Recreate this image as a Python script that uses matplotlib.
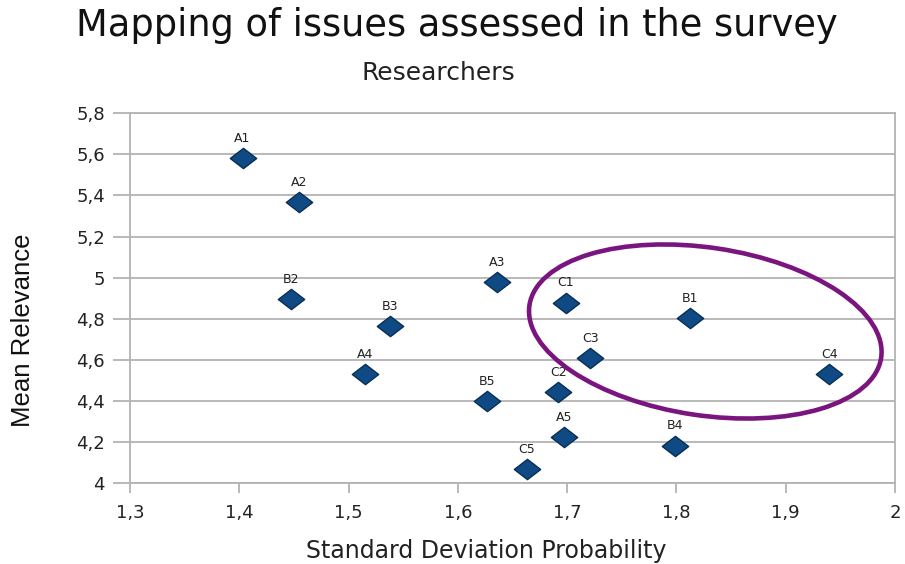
import matplotlib
matplotlib.use("Agg")
import matplotlib.pyplot as plt
from matplotlib.patches import Ellipse
from matplotlib.path import Path

# ---- data ----
labels = ["A1", "A2", "B2", "B3", "A4", "A3", "B5", "C1", "C3", "C2", "A5", "C5", "B1", "B4", "C4"]
std_dev = [1.403, 1.455, 1.447, 1.538, 1.515, 1.636, 1.627, 1.699, 1.721, 1.692, 1.697, 1.663, 1.812, 1.799, 1.940]
mean_rel = [5.582, 5.368, 4.895, 4.764, 4.530, 4.978, 4.398, 4.878, 4.607, 4.442, 4.222, 4.066, 4.802, 4.182, 4.530]

x_ticks = [1.3, 1.4, 1.5, 1.6, 1.7, 1.8, 1.9, 2.0]
x_tick_labels = ["1,3", "1,4", "1,5", "1,6", "1,7", "1,8", "1,9", "2"]
y_ticks = [4.0, 4.2, 4.4, 4.6, 4.8, 5.0, 5.2, 5.4, 5.6, 5.8]
y_tick_labels = ["4", "4,2", "4,4", "4,6", "4,8", "5", "5,2", "5,4", "5,6", "5,8"]

title = "Mapping of issues assessed in the survey"
subtitle = "Researchers"
x_label = "Standard Deviation Probability"
y_label = "Mean Relevance"

# ---- figure ----
W, H = 905, 564
fig = plt.figure(figsize=(W / 100, H / 100), dpi=100)
fig.patch.set_facecolor("white")
ax = fig.add_axes([130 / W, (H - 483) / H, (895 - 130) / W, (483 - 113.3) / H])

grid_c = "#b3b3b3"
ax.set_xlim(1.3, 2.0)
ax.set_ylim(4.0, 5.8)
ax.set_yticks(y_ticks)
ax.set_yticklabels(y_tick_labels)
ax.set_xticks(x_ticks)
ax.set_xticklabels(x_tick_labels)
ax.yaxis.grid(True, color=grid_c, linewidth=1.3)
ax.xaxis.grid(False)
ax.set_axisbelow(True)
for s in ax.spines.values():
    s.set_color(grid_c)
    s.set_linewidth(1.3)
ax.tick_params(axis="y", length=12, width=1.3, color=grid_c, pad=6,
               labelsize=13, labelcolor="#222222")
ax.tick_params(axis="x", length=7, width=1.3, color=grid_c, pad=8,
               labelsize=13, labelcolor="#222222")

diamond = Path([(0, 1), (1.3, 0), (0, -1), (-1.3, 0), (0, 1)],
               [Path.MOVETO, Path.LINETO, Path.LINETO, Path.LINETO, Path.CLOSEPOLY])
ax.plot(std_dev, mean_rel, linestyle="none", marker=diamond, markersize=19,
        markerfacecolor="#0f4a85", markeredgecolor="#0a2f55", markeredgewidth=1.0,
        zorder=3)

for lab, xv, yv in zip(labels, std_dev, mean_rel):
    ax.annotate(lab, (xv, yv), xytext=(0, 9.5), textcoords="offset points",
                ha="center", va="bottom", fontsize=9, color="#222222", zorder=4)

# highlight ellipse (drawn in figure inch space, origin bottom-left)
ell = Ellipse((705.3 / 100, (H - 331.5) / 100), 3.556, 1.678, angle=-8.5,
              transform=fig.dpi_scale_trans, fill=False,
              edgecolor="#7a1580", linewidth=3.3, zorder=5)
fig.add_artist(ell)

fig.text(456.5 / W, (H - 36) / H, title, ha="center", va="baseline",
         fontsize=26.5, color="#111111")
fig.text(438.5 / W, (H - 80) / H, subtitle, ha="center", va="baseline",
         fontsize=18, color="#222222")
fig.text(486.5 / W, (H - 558) / H, x_label, ha="center", va="baseline",
         fontsize=17, color="#222222")
fig.text(23 / W, (H - 330) / H, y_label, ha="center", va="center",
         rotation=90, fontsize=18.5, color="#111111", family="Liberation Sans")

fig.savefig("out.png", dpi=100, facecolor="white")
